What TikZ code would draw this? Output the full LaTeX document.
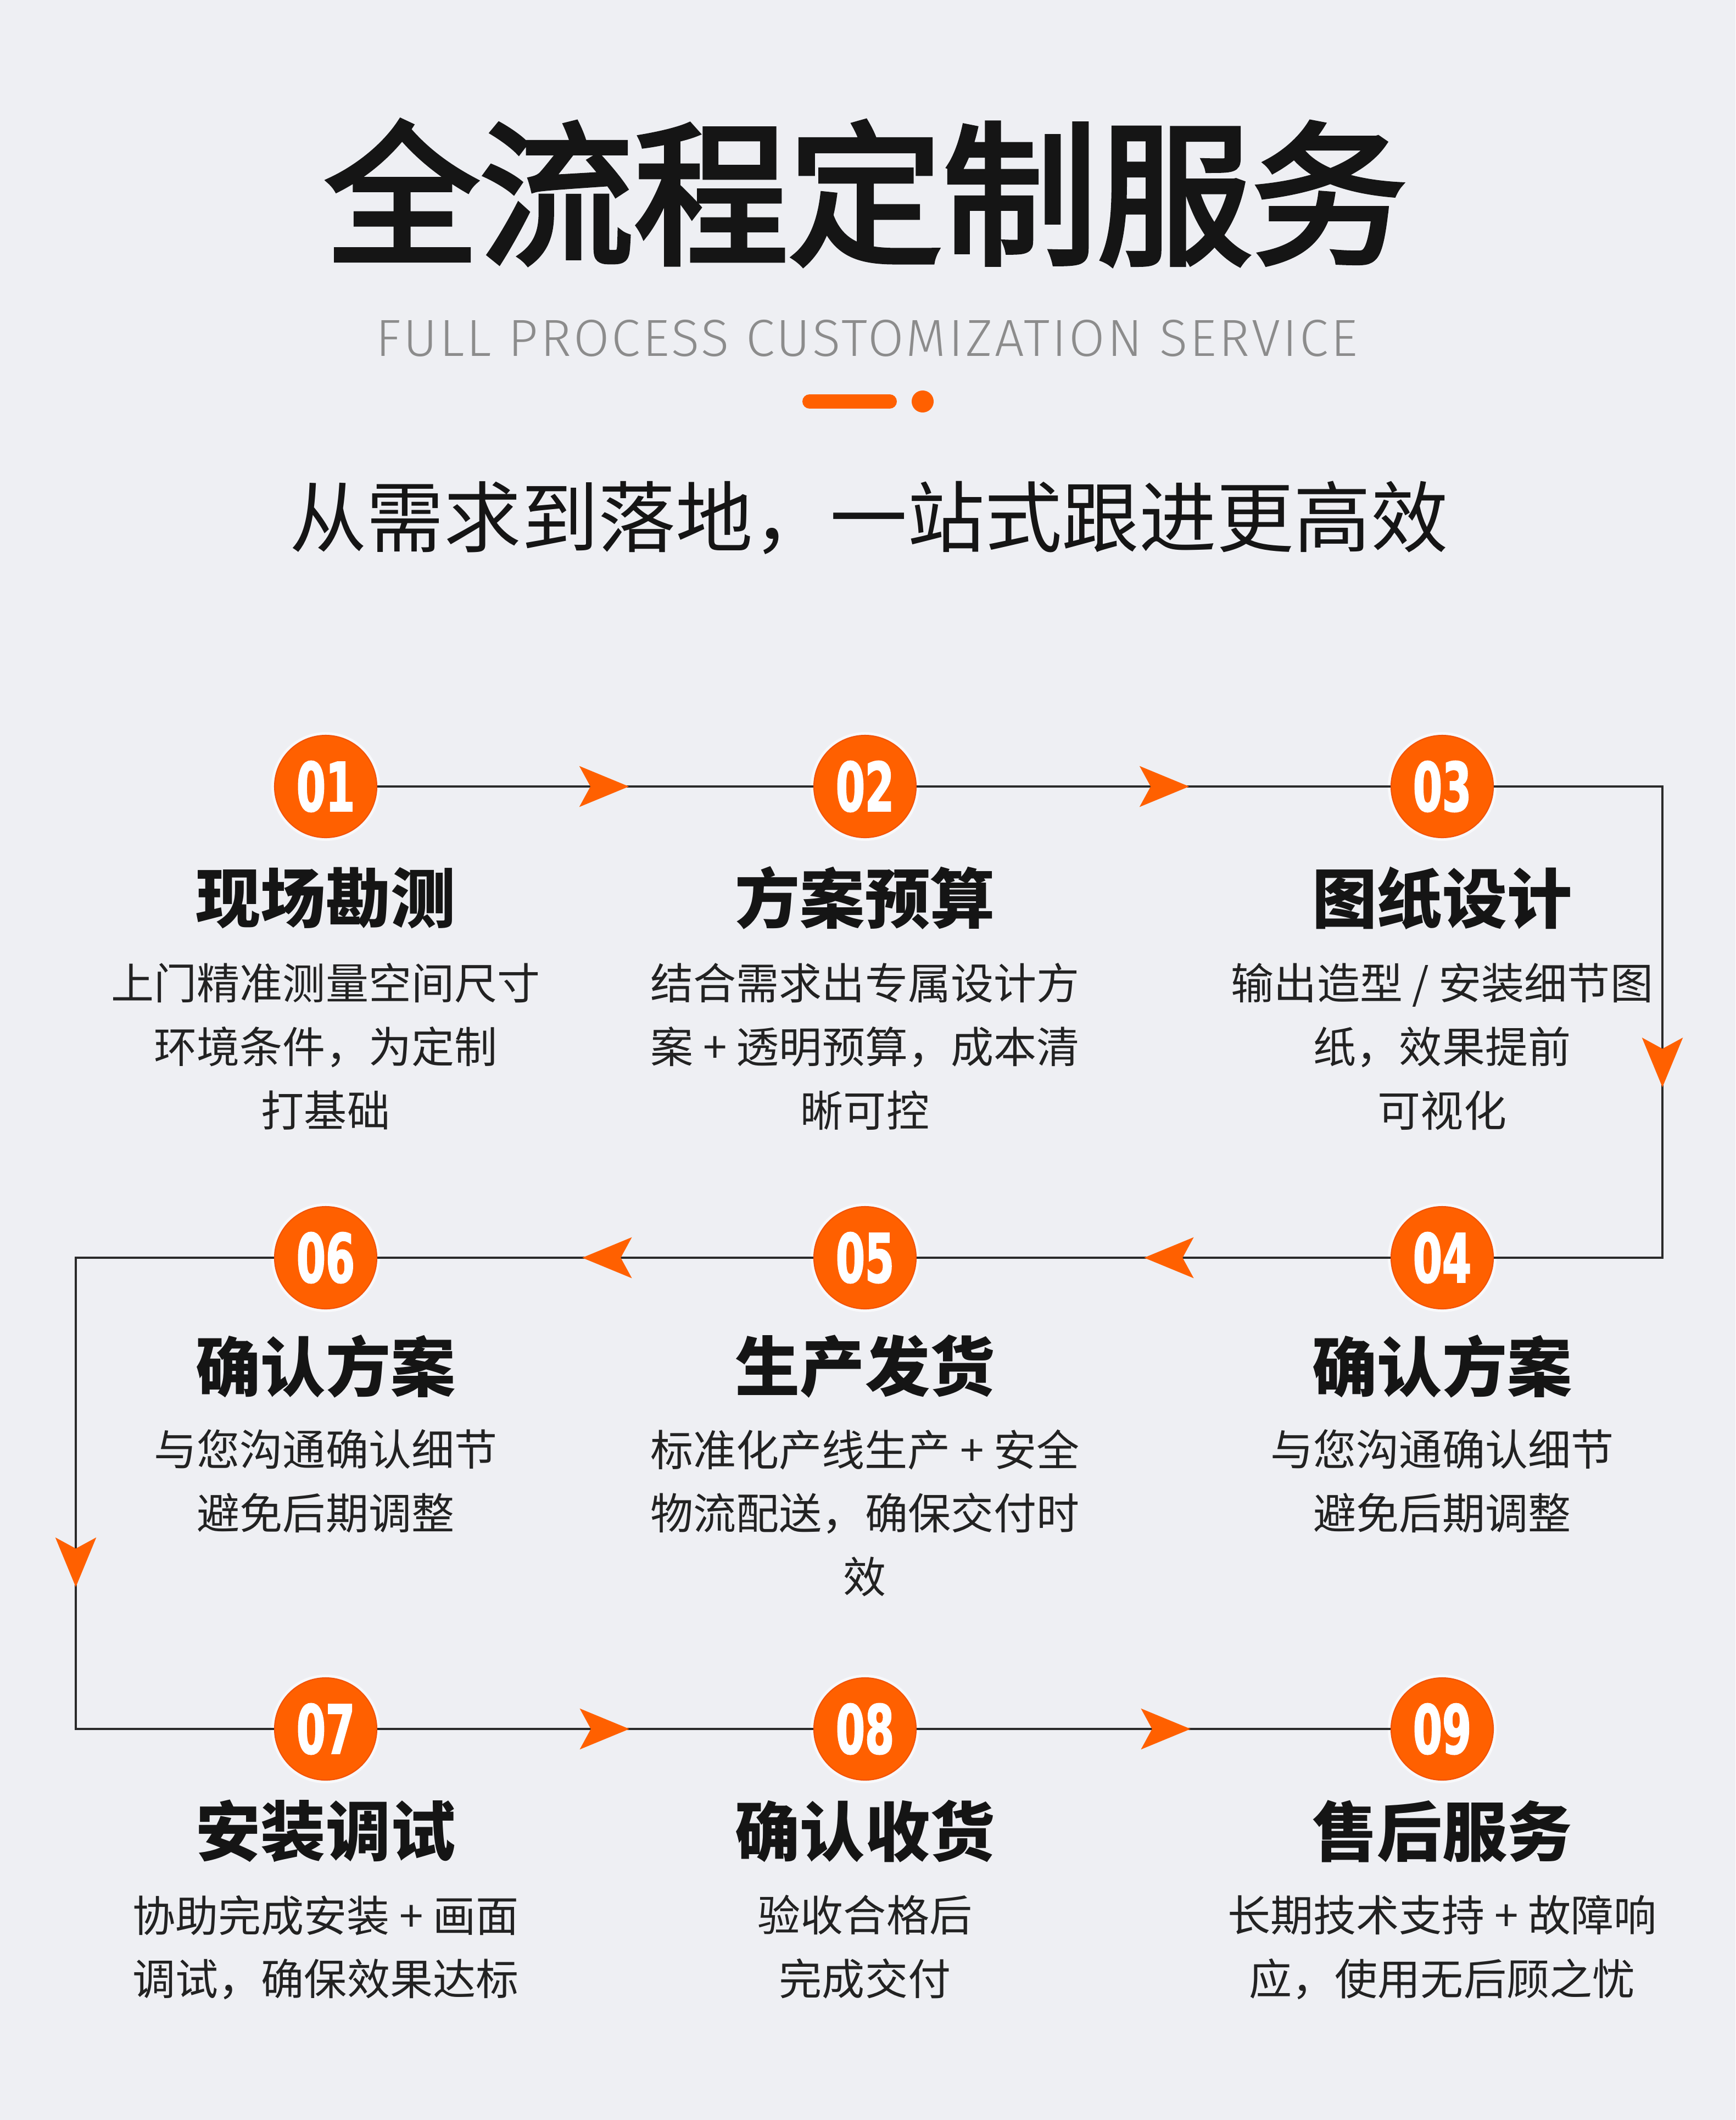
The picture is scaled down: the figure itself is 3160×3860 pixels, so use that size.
\documentclass[tikz,border=0pt]{standalone}
\usepackage{fontspec}
\usepackage{tikz}
\usetikzlibrary{arrows.meta,decorations.markings}
\setmainfont{Noto Sans CJK SC}
\newfontfamily\headfont{Noto Sans CJK SC}[FakeBold=3.2]
\newfontfamily\numfont{DejaVu Sans}[FakeStretch=0.62,FakeBold=1.6]
\newfontfamily\enfont{Fira Sans Light}[LetterSpace=4.5]
\definecolor{bgcol}{HTML}{EEEFF3}
\definecolor{stepor}{HTML}{FF6000}
\definecolor{steprim}{HTML}{F0520A}
\definecolor{linecol}{HTML}{2A2A2A}
\definecolor{subcol}{HTML}{8C8C8C}
\definecolor{txtcol}{HTML}{151515}
\definecolor{desccol}{HTML}{222222}

\begin{document}
\begin{tikzpicture}[x=0.01cm,y=-0.01cm,
  stepnum/.style={circle,fill=stepor,draw=steprim,line width=0.02cm,minimum size=1.86cm,inner sep=0pt,
    text=white,font=\numfont\bfseries\fontsize{35}{40}\selectfont,
    preaction={draw=white,line width=0.12cm,opacity=0.6}},
  steptitle/.style={inner sep=0pt,text=txtcol,font=\bfseries\fontsize{33.6}{40}\selectfont},
  stepdesc/.style={inner sep=0pt,anchor=north,align=center,text=desccol,font=\fontsize{22.2}{32.9}\selectfont},
  flowline/.style={draw=linecol,line width=0.045cm},
  midarrow/.style={postaction={decorate},decoration={markings,
    mark=at position #1 with {\arrow{Stealth[length=0.9cm,width=0.74cm,inset=0.2cm,color=stepor]}}}}]
  \useasboundingbox (0,0) rectangle (3160,3860);
  \fill[bgcol] (0,0) rectangle (3160,3860);
  % heading
  \node[inner sep=0pt,text=txtcol,font=\headfont\fontsize{80}{96}\selectfont] (head) at (1576,351) {全流程定制服务};
  \node[inner sep=0pt,text=subcol,font=\enfont\fontsize{27}{32}\selectfont] (headen) at (1578,616) {FULL PROCESS CUSTOMIZATION SERVICE};
  \draw[stepor,line width=0.26cm,line cap=round] (1474,731) -- (1620,731);
  \fill[stepor] (1680,731) circle (0.2cm);
  \node[inner sep=0pt,text=txtcol,font=\fontsize{40}{48}\selectfont] (slogan) at (1582,943) {从需求到落地，一站式跟进更高效};
  % nine steps: number / x / row y / title y / text y
  \foreach \n/\x/\y/\ty/\dy/\ttl/\dsc in {
    01/593/1432/1635/1753/现场勘测/{上门精准测量空间尺寸\\环境条件，为定制\\打基础},
    02/1575/1432/1635/1753/方案预算/{结合需求出专属设计方\\案 + 透明预算，成本清\\晰可控},
    03/2626/1432/1635/1753/图纸设计/{输出造型 / 安装细节图\\纸，效果提前\\可视化},
    04/2626/2290/2488/2602/确认方案/{与您沟通确认细节\\避免后期调整},
    05/1575/2290/2488/2602/生产发货/{标准化产线生产 + 安全\\物流配送，确保交付时\\效},
    06/593/2290/2488/2602/确认方案/{与您沟通确认细节\\避免后期调整},
    07/593/3148/3334/3450/安装调试/{协助完成安装 + 画面\\调试，确保效果达标},
    08/1575/3148/3334/3450/确认收货/{验收合格后\\完成交付},
    09/2626/3148/3334/3450/售后服务/{长期技术支持 + 故障响\\应，使用无后顾之忧}} {
    \node[stepnum] (c\n) at (\x,\y) {\n};
    \node[steptitle] (t\n) at (\x,\ty) {\ttl};
    \node[stepdesc] (d\n) at (\x,\dy) {\dsc};
  }
  % snake connectors
  \coordinate (k1) at (3027,1432); \coordinate (k2) at (3027,2290);
  \coordinate (k3) at (138,2290);  \coordinate (k4) at (138,3148);
  \draw[flowline,midarrow=0.577] (c01) -- (c02);
  \draw[flowline,midarrow=0.575] (c02) -- (c03);
  \draw[flowline,midarrow=8.54cm] (c03) -- (k1) -- (k2) -- (c04);
  \draw[flowline,midarrow=0.52] (c04) -- (c05);
  \draw[flowline,midarrow=0.53] (c05) -- (c06);
  \draw[flowline,midarrow=9.6cm] (c06) -- (k3) -- (k4) -- (c07);
  \draw[flowline,midarrow=0.578] (c07) -- (c08);
  \draw[flowline,midarrow=0.578] (c08) -- (c09);
\end{tikzpicture}
\end{document}
